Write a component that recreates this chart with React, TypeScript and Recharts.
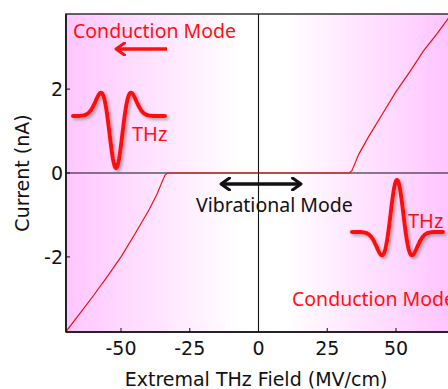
import React from 'react'
import {
  LineChart,
  Line,
  XAxis,
  YAxis,
  ReferenceLine,
  ReferenceArea,
} from 'recharts'

// field (MV/cm) vs. current (nA)
const fieldValues = [-70, -65, -60, -55, -50, -45, -40, -37, -35, -34, -33, 33, 34, 36.5, 40, 45, 50, 55, 60, 65, 70]
const currentValues = [-3.78, -3.35, -2.92, -2.47, -2.0, -1.46, -0.9, -0.52, -0.2, -0.05, 0, 0, 0.06, 0.45, 0.86, 1.4, 1.94, 2.41, 2.91, 3.33, 3.77]
const xTicks = [-50, -25, 0, 25, 50]
const yTicks = [-2, 0, 2]
const xDomain = [-70, 70]
const yDomain = [-3.79, 3.79]

const data = fieldValues.map((f, i) => ({ field: f, current: currentValues[i] }))

const tickFont = { fontFamily: 'DejaVu Sans', fontSize: 19, fill: '#111' }
const noteFont = 'Noto Sans'

const XTick = (props: any) => {
  const { x, y, payload } = props
  return (
    <g>
      <line x1={x} y1={y} x2={x} y2={y - 4} stroke="#111" />
      <text x={x} y={y + 16} textAnchor="middle" dominantBaseline="central" {...tickFont}>
        {payload.value}
      </text>
    </g>
  )
}

const YTick = (props: any) => {
  const { x, y, payload } = props
  return (
    <g>
      <line x1={x} y1={y} x2={x + 4} y2={y} stroke="#111" />
      <text x={x - 3} y={y} textAnchor="end" dominantBaseline="central" {...tickFont}>
        {payload.value}
      </text>
    </g>
  )
}

// decorative THz pulse sketch (mexican-hat shape)
function pulsePath(cx: number, cy: number, amp: number, from: number, to: number) {
  const s = 8.66
  let d = ''
  for (let px = from; px <= to; px += 0.5) {
    const t = (px - cx) / s
    const y = cy - amp * (1 - t * t) * Math.exp((-t * t) / 2)
    d += (d ? ' L' : 'M') + px.toFixed(1) + ' ' + y.toFixed(1)
  }
  return d
}

export default function App() {
  return (
    <div style={{ position: 'absolute', left: 0, top: 0, width: 448, height: 389, overflow: 'hidden', background: '#fff' }}>
      <LineChart
        width={460}
        height={389}
        data={data}
        margin={{ top: 14, right: 9, bottom: 7, left: 6 }}
      >
        <defs>
          <linearGradient id="bgGrad" x1="0" y1="0" x2="1" y2="0">
            <stop offset="0%" stopColor="#ffc6ff" />
            <stop offset="45%" stopColor="#ffffff" />
            <stop offset="57%" stopColor="#ffffff" />
            <stop offset="100%" stopColor="#ffc4ff" />
          </linearGradient>
        </defs>
        <ReferenceArea
          x1={xDomain[0]}
          x2={xDomain[1]}
          y1={yDomain[0]}
          y2={yDomain[1]}
          fill="url(#bgGrad)"
          fillOpacity={1}
          stroke="#333"
          strokeWidth={1.5}
        />
        <XAxis
          type="number"
          dataKey="field"
          domain={xDomain}
          ticks={xTicks}
          height={50}
          tickSize={0}
          tickMargin={0}
          tick={<XTick />}
          axisLine={{ stroke: '#111', strokeWidth: 1.5 }}
          allowDataOverflow
        />
        <YAxis
          type="number"
          domain={yDomain}
          ticks={yTicks}
          width={60}
          tickSize={0}
          tickMargin={0}
          tick={<YTick />}
          axisLine={{ stroke: '#111', strokeWidth: 1.5 }}
          allowDataOverflow
        />
        <ReferenceLine x={0} stroke="#111" strokeWidth={1.1} />
        <ReferenceLine y={0} stroke="#111" strokeWidth={1.1} />
        <Line
          type="linear"
          dataKey="current"
          stroke="#f01010"
          strokeWidth={1.2}
          dot={false}
          isAnimationActive={false}
        />
      </LineChart>

      <svg
        width={448}
        height={389}
        style={{ position: 'absolute', left: 0, top: 0, pointerEvents: 'none' }}
      >
        <defs>
          <filter id="shadow" x="-20%" y="-20%" width="140%" height="140%">
            <feDropShadow dx="2" dy="2" stdDeviation="1.5" floodColor="#777" floodOpacity="0.6" />
          </filter>
          <marker id="headRed" viewBox="0 0 12 14" refX="10" refY="7" markerWidth="12" markerHeight="14" markerUnits="userSpaceOnUse" orient="auto-start-reverse">
            <path d="M1.5 1 L10 7 L1.5 13" fill="none" stroke="#ff1010" strokeWidth="3" strokeLinecap="round" strokeLinejoin="round" />
          </marker>
          <marker id="headBlack" viewBox="0 0 12 14" refX="10" refY="7" markerWidth="12" markerHeight="14" markerUnits="userSpaceOnUse" orient="auto-start-reverse">
            <path d="M1.5 1 L10 7 L1.5 13" fill="none" stroke="#111" strokeWidth="3" strokeLinecap="round" strokeLinejoin="round" />
          </marker>
        </defs>

        {/* axis titles */}
        <text x={256} y={379} textAnchor="middle" dominantBaseline="central" {...tickFont}>
          Extremal THz Field (MV/cm)
        </text>
        <text
          x={22}
          y={173}
          textAnchor="middle"
          dominantBaseline="central"
          transform="rotate(-90 22 173)"
          {...tickFont}
        >
          Current (nA)
        </text>

        {/* left: negative field, conduction */}
        <text x={73} y={30} fontFamily={noteFont} fontSize={19.5} fill="#ff1010" dominantBaseline="central">
          Conduction Mode
        </text>
        <line x1={167} y1={49} x2={116} y2={49} stroke="#ff1010" strokeWidth={3.5} markerEnd="url(#headRed)" />
        <path d={pulsePath(116, 116, -52, 73, 165)} fill="none" stroke="#ff1010" strokeWidth={4} strokeLinecap="round" filter="url(#shadow)" />
        <text x={132} y={133} fontFamily={noteFont} fontSize={20} fill="#ff1010" dominantBaseline="central">
          THz
        </text>

        {/* centre: vibrational */}
        <line x1={221} y1={184} x2={301} y2={184} stroke="#111" strokeWidth={3.5} markerStart="url(#headBlack)" markerEnd="url(#headBlack)" />
        <text x={196} y={204} fontFamily={noteFont} fontSize={19.5} fill="#111" dominantBaseline="central">
          Vibrational Mode
        </text>

        {/* right: positive field, conduction */}
        <path d={pulsePath(397, 232, 52, 352, 443)} fill="none" stroke="#ff1010" strokeWidth={4} strokeLinecap="round" filter="url(#shadow)" />
        <text x={408} y={220} fontFamily={noteFont} fontSize={20} fill="#ff1010" dominantBaseline="central">
          THz
        </text>
        <text x={292} y={298} fontFamily={noteFont} fontSize={19.5} fill="#ff1010" dominantBaseline="central">
          Conduction Mode
        </text>
      </svg>
    </div>
  )
}
